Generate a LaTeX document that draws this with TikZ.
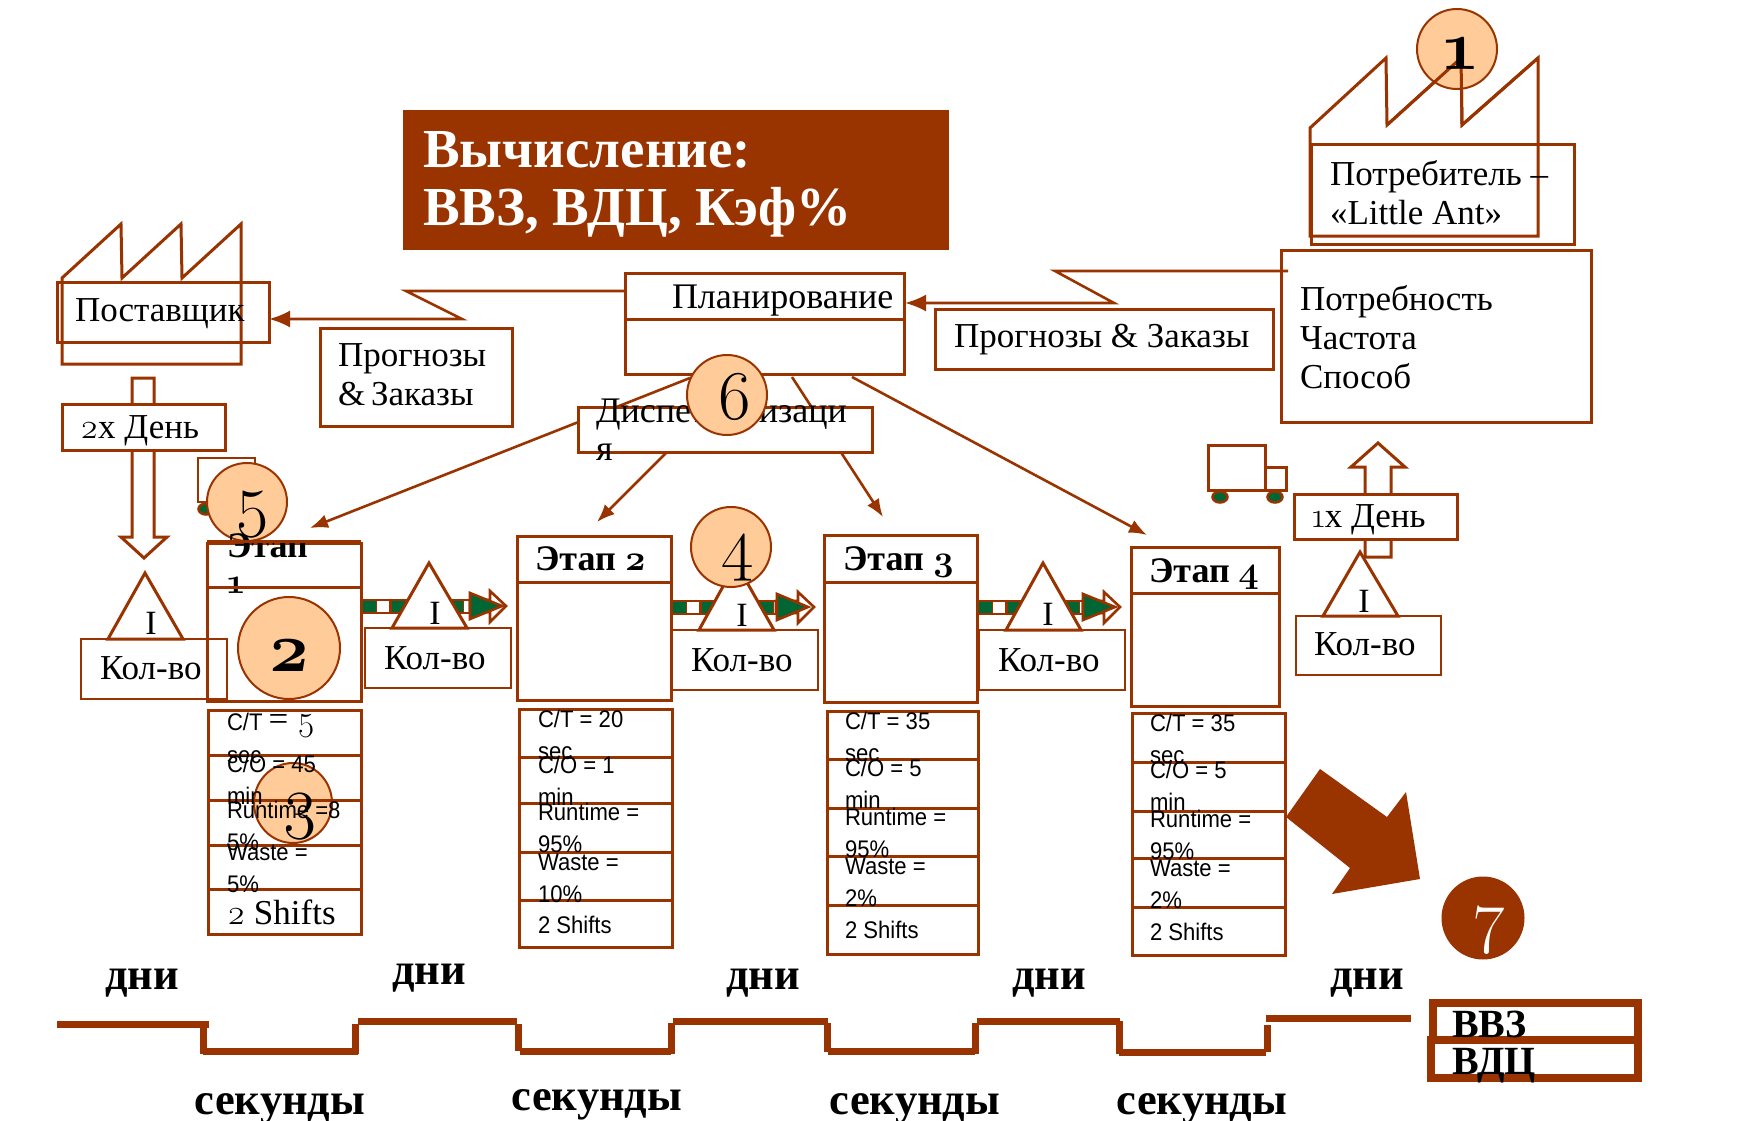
\documentclass[tikz,border=0pt]{standalone}
\usepackage{fontspec}
\setmainfont{Liberation Serif}
\newfontfamily\datafont[FakeStretch=0.92]{Liberation Sans}
\newfontfamily\oldnum[Numbers=OldStyle]{Latin Modern Roman}
\usetikzlibrary{arrows.meta,shapes.geometric}
\definecolor{vsmbrown}{HTML}{993300}
\definecolor{vsmpeach}{HTML}{FFCC99}
\definecolor{vsmgreen}{HTML}{006633}
\tikzset{
  boxnode/.style={draw=vsmbrown, line width=3pt, rectangle, anchor=north west, inner sep=0pt, outer sep=0pt},
  thinbox/.style={boxnode, line width=2.2pt},
  lbl/.style={anchor=base west, inner sep=0pt, outer sep=0pt, align=left, font=\fontsize{35}{39}\selectfont},
  boldlbl/.style={lbl, font=\fontsize{36}{36}\selectfont\bfseries},
  datalbl/.style={lbl, font=\fontsize{24}{32}\selectfont\datafont},
  timelbl/.style={anchor=base, inner sep=0pt, font=\fontsize{44.5}{50}\selectfont\bfseries},
  numdot/.style={draw=vsmbrown, line width=2pt, fill=vsmpeach, ellipse, inner sep=0pt, outer sep=0pt},
  numlbl/.style={inner sep=0pt, font=\fontsize{70}{72}\selectfont\oldnum},
  brownline/.style={draw=vsmbrown, line width=3pt, line join=miter},
  flowarrow/.style={draw=vsmbrown, line width=2.6pt, -{Latex[length=18pt,width=14pt]}},
  bigflow/.style={flowarrow, -{Latex[length=21pt,width=17pt]}},
  tri/.style={draw=vsmbrown, line width=3pt, fill=white, line join=miter},
  wheel/.style={draw=vsmbrown, line width=2.5pt, fill=vsmgreen, ellipse, minimum width=15pt, minimum height=11pt, inner sep=0pt},
  timeline/.style={draw=vsmbrown, line width=7pt},
  bandbase/.style={draw=vsmbrown, line width=15pt},
  bandwhite/.style={draw=white, line width=11pt, dash pattern=on 12pt off 17pt, dash phase=-16pt},
  bandgreen/.style={draw=vsmgreen, line width=11pt, dash pattern=on 13pt off 16pt, dash phase=-2pt},
  openhead/.style={draw=vsmbrown, line width=2.6pt, fill=white, line join=miter},
  greenhead/.style={draw=vsmbrown, line width=2.6pt, fill=vsmgreen, line join=miter},
}
\begin{document}
\begin{tikzpicture}[x=1pt,y=-1pt]
\useasboundingbox (0,0) rectangle (1741,1121);

% Title
\path
(403,110) node[rectangle, fill=vsmbrown, anchor=north west, inner sep=0pt, minimum width=546pt, minimum height=140pt] (title) {}
(423,225) node[lbl, text=white, font=\fontsize{55}{58}\selectfont\bfseries] (titletxt) {Вычисление:\\ВВЗ, ВДЦ, Кэф\%}
;

% Supplier
\draw[brownline] (62,364) -- (62,278) -- (121,224) -- (122,278) -- (181,224) -- (182,278) -- (241,224) -- (241,364) -- cycle;
\path
(57,282)   node[boxnode, minimum width=212pt, minimum height=60pt] (supplier) {}
(75,321)   node[lbl] (suppliertxt) {Поставщик}
(320,328)  node[boxnode, minimum width=192pt, minimum height=98pt] (fcleft) {}
(338,405)  node[lbl] (fclefttxt) {Прогнозы\\\&\,Заказы}
;

% Planning
\path
(625,273)  node[boxnode, minimum width=279pt, minimum height=101pt] (plan) {}
(625,319)  coordinate (planmidl)
(904,319)  coordinate (planmidr)
(672,308)  node[lbl, font=\fontsize{36}{39}\selectfont] (plantxt) {Планирование}
(935,309)  node[boxnode, minimum width=338pt, minimum height=60pt] (fcright) {}
(954,347)  node[lbl] (fcrighttxt) {Прогнозы \& Заказы}
;
\draw[brownline] (planmidl) -- (planmidr);

\coordinate (lz1) at (406,291);
\coordinate (lz2) at (462,319);
\coordinate (lz3) at (1055,271);
\coordinate (lz4) at (1114,303);
\coordinate (lz0) at (1288,271);
\coordinate (plane) at (905,303);
\draw[bigflow] (plan.west |- lz1) -- (lz1) -- (lz2) -- (supplier.east |- lz2);
\draw[bigflow] (lz0) -- (lz3) -- (lz4) -- (plane);

% Customer
\draw[brownline] (1310,236) -- (1310,128) -- (1386,58) -- (1387,125) -- (1461,58) -- (1462,125) -- (1538,58) -- (1538,236) -- cycle;
\path
(1311,145) node[boxnode, minimum width=263pt, minimum height=99pt] (customer) {}
(1330,224) node[lbl] (customertxt) {Потребитель --\\«Little Ant»}
(1281,250) node[boxnode, minimum width=310pt, minimum height=172pt] (demand) {}
(1300,388) node[lbl] (demandtxt) {Потребность\\Частота\\Способ}
(1457,49)  node[numdot, minimum width=80pt, minimum height=80pt] (dot1) {}
;
\draw[brownline] (1387,125) -- (1461,58) -- (1462,125) -- (1538,58);
\node[numlbl, font=\fontsize{70}{72}\selectfont\oldnum\bfseries] (num1) at (1460,53) {1};

% Pull arrows
\draw[brownline] (132,378) -- (154,378) -- (154,537) -- (167,537) -- (144,558) -- (121,537) -- (132,537) -- cycle;
\draw[brownline, fill=white] (1365,557) -- (1365,467) -- (1351,467) -- (1378,443) -- (1405,467) -- (1391,467) -- (1391,557) -- cycle;
\path
(62,404)    node[boxnode, fill=white, minimum width=163pt, minimum height=46pt] (pullone) {}
(80,438)    node[lbl] (pullonetxt) {{\oldnum 2}x День}
(1294,494)  node[boxnode, fill=white, minimum width=163pt, minimum height=45pt] (pulltwo) {}
(1312,527)  node[lbl] (pulltwotxt) {{\oldnum 1}x День}
;

% Trucks
\path
(198,458)  node[thinbox, minimum width=57pt, minimum height=44pt] (truckone) {}
(255,480)  node[thinbox, minimum width=21pt, minimum height=22pt] (cabone) {}
(206,509)  node[wheel] (wheelonea) {}
(261,509)  node[wheel] (wheeloneb) {}
(1208,445) node[boxnode, minimum width=57pt, minimum height=45pt] (trucktwo) {}
(1265,467) node[boxnode, minimum width=21pt, minimum height=23pt] (cabtwo) {}
(1220,497) node[wheel] (wheeltwoa) {}
(1275,497) node[wheel] (wheeltwob) {}
;

% Dispatch and flow to steps
\coordinate (p1) at (690,378);
\coordinate (p2) at (792,377);
\coordinate (p3) at (676,443);
\coordinate (p4) at (852,377);
\coordinate (stepin1) at (310,528);
\coordinate (stepin2) at (597,522);
\coordinate (stepin3) at (883,517);
\coordinate (stepin4) at (1147,535);
\draw[flowarrow] (p1) -- (stepin1);
\draw[flowarrow] (p2) -- (stepin3);
\draw[flowarrow] (p3) -- (stepin2);
\draw[flowarrow] (p4) -- (stepin4);
\path
(578,407)  node[boxnode, fill=white, minimum width=294pt, minimum height=45pt] (dispatch) {}
(596,460)  node[lbl, font=\fontsize{36}{38}\selectfont] (dispatchtxt) {Диспетчеризаци\\я}
;

% Push arrows
\coordinate (bandone) at (361,606);
\coordinate (bandoneend) at (472,606);
\coordinate (bandtwo) at (671,607);
\coordinate (bandtwoend) at (778,607);
\coordinate (bandthree) at (977,607);
\coordinate (bandthreeend) at (1085,607);
\draw[bandbase] (bandone) -- (bandoneend);
\draw[bandwhite] (bandone) -- (bandoneend);
\draw[bandgreen] (bandone) -- (bandoneend);
\draw[bandbase] (bandtwo) -- (bandtwoend);
\draw[bandwhite] (bandtwo) -- (bandtwoend);
\draw[bandgreen] (bandtwo) -- (bandtwoend);
\draw[bandbase] (bandthree) -- (bandthreeend);
\draw[bandwhite] (bandthree) -- (bandthreeend);
\draw[bandgreen] (bandthree) -- (bandthreeend);
\draw[openhead] (470,600) -- (490,600) -- (490,591) -- (506,606) -- (490,622) -- (490,612) -- (470,612) -- cycle;
\draw[greenhead] (470,593) -- (502,606) -- (470,619) -- cycle;
\draw[openhead] (776,601) -- (798,601) -- (798,592) -- (814,607) -- (798,623) -- (798,613) -- (776,613) -- cycle;
\draw[greenhead] (777,594) -- (808,607) -- (777,620) -- cycle;
\draw[openhead] (1083,601) -- (1104,601) -- (1104,592) -- (1120,607) -- (1104,623) -- (1104,613) -- (1083,613) -- cycle;
\draw[greenhead] (1083,594) -- (1115,607) -- (1083,620) -- cycle;

% Inventory triangles
\draw[tri] (145,573) -- (108,639) -- (183,639) -- cycle;
\draw[tri] (429,563) -- (392,628) -- (467,628) -- cycle;
\draw[tri] (736,563) -- (699,630) -- (774,630) -- cycle;
\draw[tri] (1043,563) -- (1006,630) -- (1081,630) -- cycle;
\draw[tri] (1360,552) -- (1323,616) -- (1398,616) -- cycle;
\path
(151,623)  node[inner sep=0pt, font=\fontsize{34}{39}\selectfont] (invone) {I}
(435,613)  node[inner sep=0pt, font=\fontsize{34}{39}\selectfont] (invtwo) {I}
(742,615)  node[inner sep=0pt, font=\fontsize{34}{39}\selectfont] (invthree) {I}
(1048,614) node[inner sep=0pt, font=\fontsize{34}{39}\selectfont] (invfour) {I}
(1364,601) node[inner sep=0pt, font=\fontsize{34}{39}\selectfont] (invfive) {I}
(81,639)   node[thinbox, minimum width=146pt, minimum height=60pt] (qtyone) {}
(100,679)  node[lbl] (qtyonetxt) {Кол-во}
(365,628)  node[thinbox, minimum width=146pt, minimum height=60pt] (qtytwo) {}
(384,669)  node[lbl] (qtytwotxt) {Кол-во}
(672,630)  node[thinbox, minimum width=146pt, minimum height=60pt] (qtythree) {}
(691,671)  node[lbl] (qtythreetxt) {Кол-во}
(979,630)  node[thinbox, minimum width=146pt, minimum height=60pt] (qtyfour) {}
(998,671)  node[lbl] (qtyfourtxt) {Кол-во}
(1296,616) node[thinbox, minimum width=145pt, minimum height=59pt] (qtyfive) {}
(1314,655) node[lbl] (qtyfivetxt) {Кол-во}
;

% Numbered dots behind steps
\path
(247,502)  node[numdot, minimum width=80pt, minimum height=78pt] (dot5) {}
(289,648)  node[numdot, minimum width=102pt, minimum height=102pt] (dot2) {}
(293,803)  node[numdot, minimum width=78pt, minimum height=80pt] (dot3) {}
(731,547)  node[numdot, minimum width=80pt, minimum height=80pt] (dot4) {}
(727,395)  node[numdot, minimum width=80pt, minimum height=80pt] (dot6) {}
;

% Step 1
\path
(207,543)  node[boxnode, minimum width=154pt, minimum height=158pt] (stepone) {}
(227,593)  node[boldlbl] (steponetxt) {Этап\\{\oldnum 1}}
(208,710)  node[boxnode, minimum width=153pt, minimum height=45pt] (ctone) {}
(208,755)  node[boxnode, minimum width=153pt, minimum height=45pt] (coone) {}
(208,800)  node[boxnode, minimum width=153pt, minimum height=45pt] (rtone) {}
(208,845)  node[boxnode, minimum width=153pt, minimum height=44pt] (wsone) {}
(208,889)  node[boxnode, minimum width=153pt, minimum height=45pt] (shone) {}
(227,763)  node[datalbl] (ctonetxt) {C/T \fontsize{35}{38}\selectfont\rmfamily = {\oldnum 5}\\[1pt]\fontsize{24}{32}\selectfont\datafont sec}
(227,804)  node[datalbl] (coonetxt) {C/O = 45\\min}
(227,850)  node[datalbl] (rtonetxt) {Runtime =8\\5\%}
(227,892)  node[datalbl] (wsonetxt) {Waste =\\5\%}
(227,924)  node[lbl] (shonetxt) {{\oldnum 2} Shifts}
;
\draw[brownline] (207,541) -- (361,541);
\draw[brownline] (207,587) -- (361,587);

% Step 2
\path
(517,536)  node[boxnode, minimum width=154pt, minimum height=164pt] (steptwo) {}
(535,570)  node[boldlbl] (steptwotxt) {Этап {\oldnum 2}}
(519,709)  node[boxnode, minimum width=153pt, minimum height=48pt] (cttwo) {}
(519,757)  node[boxnode, minimum width=153pt, minimum height=46pt] (cotwo) {}
(519,803)  node[boxnode, minimum width=153pt, minimum height=49pt] (rttwo) {}
(519,852)  node[boxnode, minimum width=153pt, minimum height=48pt] (wstwo) {}
(519,900)  node[boxnode, minimum width=153pt, minimum height=47pt] (shtwo) {}
(538,759)  node[datalbl] (cttwotxt) {C/T = 20\\sec}
(538,805)  node[datalbl] (cotwotxt) {C/O = 1\\min}
(538,852)  node[datalbl] (rttwotxt) {Runtime =\\95\%}
(538,902)  node[datalbl] (wstwotxt) {Waste =\\10\%}
(538,933)  node[datalbl] (shtwotxt) {2 Shifts}
;
\draw[brownline] (517,582) -- (671,582);

% Step 3
\path
(824,535)  node[boxnode, minimum width=153pt, minimum height=167pt] (stepthree) {}
(843,570)  node[boldlbl] (stepthreetxt) {Этап {\oldnum 3}}
(827,711)  node[boxnode, minimum width=151pt, minimum height=48pt] (ctthree) {}
(827,759)  node[boxnode, minimum width=151pt, minimum height=49pt] (cothree) {}
(827,808)  node[boxnode, minimum width=151pt, minimum height=48pt] (rtthree) {}
(827,856)  node[boxnode, minimum width=151pt, minimum height=49pt] (wsthree) {}
(827,905)  node[boxnode, minimum width=151pt, minimum height=49pt] (shthree) {}
(845,761)  node[datalbl] (ctthreetxt) {C/T = 35\\sec}
(845,808)  node[datalbl] (cothreetxt) {C/O = 5\\min}
(845,857)  node[datalbl] (rtthreetxt) {Runtime =\\95\%}
(845,906)  node[datalbl] (wsthreetxt) {Waste =\\2\%}
(845,938)  node[datalbl] (shthreetxt) {2 Shifts}
;
\draw[brownline] (824,582) -- (977,582);

% Step 4
\path
(1131,547) node[boxnode, minimum width=148pt, minimum height=159pt] (stepfour) {}
(1149,582) node[boldlbl] (stepfourtxt) {Этап {\oldnum 4}}
(1132,713) node[boxnode, minimum width=153pt, minimum height=49pt] (ctfour) {}
(1132,762) node[boxnode, minimum width=153pt, minimum height=49pt] (cofour) {}
(1132,811) node[boxnode, minimum width=153pt, minimum height=47pt] (rtfour) {}
(1132,858) node[boxnode, minimum width=153pt, minimum height=49pt] (wsfour) {}
(1132,907) node[boxnode, minimum width=153pt, minimum height=48pt] (shfour) {}
(1150,763) node[datalbl] (ctfourtxt) {C/T = 35\\sec}
(1150,810) node[datalbl] (cofourtxt) {C/O = 5\\min}
(1150,859) node[datalbl] (rtfourtxt) {Runtime =\\95\%}
(1150,908) node[datalbl] (wsfourtxt) {Waste =\\2\%}
(1150,940) node[datalbl] (shfourtxt) {2 Shifts}
;
\draw[brownline] (1131,593) -- (1279,593);

% Digits over the dots
\path
(253,515)  node[numlbl] (num5) {5}
(289,655)  node[numlbl, font=\fontsize{70}{72}\selectfont\oldnum\bfseries] (num2) {2}
(300,817)  node[numlbl] (num3) {3}
(738,558)  node[numlbl] (num4) {4}
(735,397)  node[numlbl] (num6) {6}
;

% Result arrow and dot
\fill[vsmbrown] (1286,817) -- (1320,769) -- (1387,817) -- (1406,792) -- (1420,879) -- (1332,894) -- (1350,868) -- cycle;
\path
(1483,918) node[numdot, fill=vsmbrown, minimum width=81pt, minimum height=81pt] (dot7) {}
(1490,930) node[numlbl, text=white] (num7) {7}
;

% Time line
\draw[timeline] (57,1024) -- (209,1024);
\draw[timeline] (203,1022) -- (203,1054);
\draw[timeline] (203,1051) -- (358,1051);
\draw[timeline] (355,1024) -- (355,1054);
\draw[timeline] (358,1021) -- (517,1021);
\draw[timeline] (518,1024) -- (518,1051);
\draw[timeline] (520,1051) -- (671,1051);
\draw[timeline] (671,1023) -- (671,1054);
\draw[timeline] (673,1021) -- (828,1021);
\draw[timeline] (827,1023) -- (827,1052);
\draw[timeline] (828,1051) -- (975,1051);
\draw[timeline] (975,1023) -- (975,1054);
\draw[timeline] (977,1021) -- (1120,1021);
\draw[timeline] (1119,1021) -- (1119,1054);
\draw[timeline] (1119,1052) -- (1266,1052);
\draw[timeline] (1267,1025) -- (1267,1052);
\draw[timeline] (1266,1018) -- (1411,1018);

\path
(142,989)  node[timelbl] (dayone) {дни}
(429,984)  node[timelbl] (daytwo) {дни}
(763,989)  node[timelbl] (daythree) {дни}
(1049,989) node[timelbl] (dayfour) {дни}
(1367,989) node[timelbl] (dayfive) {дни}
(280,1114) node[timelbl] (secone) {секунды}
(597,1110) node[timelbl] (sectwo) {секунды}
(915,1114) node[timelbl] (secthree) {секунды}
(1202,1114) node[timelbl] (secfour) {секунды}
;

% Totals
\path
(1433,1003) node[boxnode, line width=7.5pt, minimum width=205pt, minimum height=37pt] (totala) {}
(1431,1040) node[boxnode, line width=7.5pt, minimum width=207pt, minimum height=38pt] (totalb) {}
(1452,1074) node[boldlbl, font=\fontsize{40}{37}\selectfont\bfseries] (totaltxt) {ВВЗ\\ВДЦ}
;

\end{tikzpicture}
\end{document}
